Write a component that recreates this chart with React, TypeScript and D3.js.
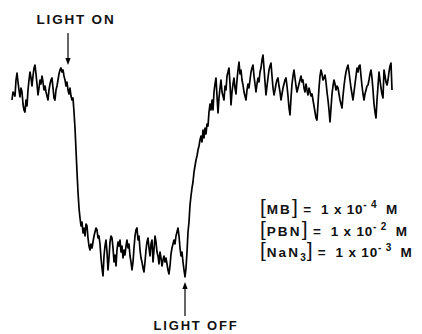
import React from "react";
import * as d3 from "d3";

// time (s, arbitrary origin) and ESR signal (arbitrary units)
const darkBaseline: [number, number][] = [
  [0,200],[1,208],[3,204],[4,220],[5,227],[6,218],[7,210],[8,203],[9,212],[10,208],[11,196],[12,190],[13,188],[14,200],[15,194],[16,210],[17,220],[18,228],[19,222],[20,214],[21,224],[22,232],[23,235],[24,226],[25,216],[26,205],[27,212],[28,220],[29,216],[30,224],[31,218],[32,210],[33,214],[34,208],[35,204],[36,200],[37,210],[38,216],[39,220],[40,222],[41,212],[42,202],[43,200],[44,210],[45,214],[46,220],[47,226],[48,230],[49,232],[50,228],[51,230],[52,224],[53,220],[54,214],[55,218],[56,210],[57,206],[58,212],[59,204],[60,200],[61,202]
];
const lightOnDecay: [number, number][] = [
  [62,188],[63,172],[64,150],[65,128],[66,108],[67,92],[68,82],[69,74]
];
const illuminated: [number, number][] = [
  [70,78],[71,67],[72,72],[73,64],[74,76],[75,74],[76,62],[77,54],[78,50],[79,56],[80,52],[81,58],[82,64],[83,68],[84,72],[85,70],[86,62],[87,64],[88,56],[89,42],[90,32],[91,24],[92,44],[93,54],[94,60],[95,48],[96,30],[97,42],[98,58],[99,64],[100,62],[101,52],[102,38],[103,45],[104,34],[105,50],[106,58],[107,54],[108,60],[109,48],[110,54],[111,42],[112,50],[113,45],[114,54],[115,60],[116,52],[117,56],[118,44],[119,38],[120,30],[121,38],[122,52],[123,64],[124,70],[125,72],[126,60],[127,64],[128,50],[129,42],[130,38],[131,32],[132,28],[133,38],[134,50],[135,58],[136,62],[137,52],[138,44],[139,56],[140,60],[141,38],[142,50],[143,64],[144,58],[145,48],[146,44],[147,36],[148,48],[149,42],[150,34],[151,40],[152,44],[153,38],[154,42],[155,36],[156,30],[157,26],[158,34],[159,46],[160,52],[161,56],[162,60],[163,56],[164,64],[165,68],[166,72],[167,64],[168,52],[169,44],[170,48],[171,38],[172,30],[173,23]
];
const lightOffRecovery: [number, number][] = [
  [174,32],[175,48],[176,68],[177,78],[178,95],[179,104],[180,112],[181,118],[182,128],[183,134],[184,140],[185,144],[186,150],[187,154],[188,160],[189,164],[190,158],[191,170],[192,162],[193,172],[194,166],[195,176],[196,174],[197,188],[198,196],[199,190],[200,200]
];
const darkRecovered: [number, number][] = [
  [201,190],[202,208],[203,216],[204,222],[205,204],[206,187],[207,202],[208,212],[209,220],[210,208],[211,204],[212,200],[213,214],[214,210],[215,224],[216,228],[217,232],[218,216],[219,195],[220,208],[221,216],[222,222],[223,212],[224,206],[225,220],[226,230],[227,238],[228,226],[229,230],[230,220],[231,215],[232,208],[233,204],[234,200],[235,210],[236,216],[237,212],[238,220],[239,228],[240,232],[241,235],[242,224],[243,216],[244,208],[245,216],[246,222],[247,218],[248,228],[249,232],[250,240],[251,245],[252,232],[253,218],[254,205],[255,214],[256,222],[257,230],[258,234],[259,237],[260,224],[261,212],[262,205],[263,210],[264,216],[265,220],[266,222],[267,214],[268,208],[269,200],[270,206],[271,212],[272,216],[273,220],[274,222],[275,214],[276,204],[277,192],[278,185],[279,202],[280,216],[281,224],[282,230],[283,222],[284,214],[285,208],[286,212],[287,216],[288,220],[289,224],[290,218],[291,220],[292,212],[293,208],[294,216],[295,210],[296,205],[297,212],[298,208],[299,204],[300,206],[301,200],[302,194],[303,188],[304,182],[305,180],[306,196],[307,212],[308,224],[309,230],[310,226],[311,220],[312,222],[313,225],[314,218],[315,208],[316,200],[317,190],[318,178],[319,192],[320,206],[321,214],[322,220],[323,216],[324,210],[325,214],[326,212],[327,206],[328,200],[329,196],[330,192],[331,204],[332,214],[333,222],[334,228],[335,232],[336,235],[337,228],[338,220],[339,212],[340,206],[341,200],[342,208],[343,216],[344,224],[345,232],[346,228],[347,234],[348,235],[349,224],[350,214],[351,206],[352,200],[353,206],[354,210],[355,214],[356,215],[357,220],[358,226],[359,230],[360,222],[361,210],[362,196],[363,188],[364,182],[365,200],[366,214],[367,228],[368,220],[369,212],[370,206],[371,202],[372,230],[373,224],[374,218],[375,215],[376,220],[377,228],[378,234],[379,237],[380,210]
];

const traceSegments = [darkBaseline, lightOnDecay, illuminated, lightOffRecovery, darkRecovered];

const lightOnTime = 56;
const lightOffTime = 174;
const eventLabels = ["LIGHT ON", "LIGHT OFF"];
const concSpecies = ["MB", "PBN", "NaN"];
const concSubscripts = ["", "", "3"];
const concExponents = ["- 4", "- 2", "- 3"];

export default function App() {
  const W = 422, H = 334;
  const x = d3.scaleLinear().domain([0, 380]).range([12, 392]);
  const y = d3.scaleLinear().domain([0, 300]).range([300, 0]);
  const data = traceSegments.flat();
  const line = d3.line<[number, number]>().x(d => x(d[0])).y(d => y(d[1]));

  const font = "'Liberation Sans', Arial, Helvetica, sans-serif";
  const onX = x(lightOnTime);
  const offX = x(lightOffTime - 1);

  const arrowHead = (tx: number, ty: number, dir: 1 | -1) =>
    `M${tx},${ty} L${tx - 2.6},${ty - dir * 7} L${tx + 2.6},${ty - dir * 7} Z`;

  return (
    <svg width={W} height={H} style={{ position: "absolute", left: 0, top: 0, background: "#fff" }}>
      <rect width={W} height={H} fill="#fff" />
      <path d={line(data) || ""} fill="none" stroke="#000" strokeWidth={1.7} strokeLinejoin="round" />

      {/* LIGHT ON */}
      <text x={76} y={24} textAnchor="middle" fontFamily={font} fontWeight="bold" fontSize={13.5} letterSpacing={1.8} fill="#111">
        {eventLabels[0]}
      </text>
      <line x1={onX} x2={onX} y1={33} y2={58} stroke="#000" strokeWidth={1.2} />
      <path d={arrowHead(onX, 65, 1)} fill="#000" />

      {/* LIGHT OFF */}
      <line x1={offX} x2={offX} y1={289} y2={316} stroke="#000" strokeWidth={1.2} />
      <path d={arrowHead(offX, 282, -1)} fill="#000" />
      <text x={196} y={330} textAnchor="middle" fontFamily={font} fontWeight="bold" fontSize={13} letterSpacing={1.8} fill="#111">
        {eventLabels[1]}
      </text>

      {/* concentrations */}
      {concSpecies.map((sp, i) => (
        <text key={sp} x={260} y={214 + i * 21.5} fontFamily={font} fontWeight="bold" fontSize={13.5} fill="#111" letterSpacing={0.8}>
          <tspan fontSize={21} fontWeight="normal">[</tspan>
          <tspan letterSpacing={2.2}>{sp}</tspan>
          {concSubscripts[i] ? <tspan fontSize={10} dy={4}>{concSubscripts[i]}</tspan> : null}
          <tspan fontSize={21} fontWeight="normal" dy={concSubscripts[i] ? -4 : 0}>]</tspan>
          <tspan>{"\u00a0=\u00a0\u00a01\u00a0x\u00a010"}</tspan>
          <tspan fontSize={10} dy={-6}>{concExponents[i]}</tspan>
          <tspan dy={6} dx={4}>{"\u00a0M"}</tspan>
        </text>
      ))}
    </svg>
  );
}
